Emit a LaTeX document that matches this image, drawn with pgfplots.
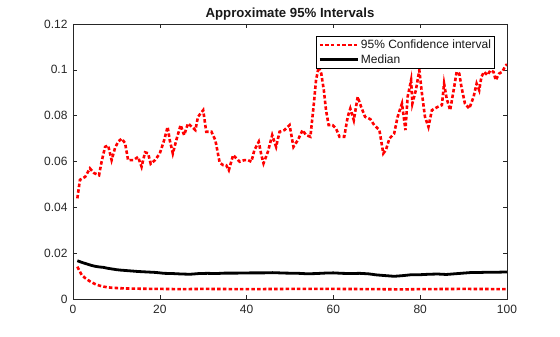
\documentclass[border=0pt]{standalone}
\usepackage{fontspec}
\setmainfont{Liberation Sans}
\usepackage{pgfplots}
\pgfplotsset{compat=1.18}
\definecolor{axgray}{gray}{0.15}
\begin{document}
\begin{tikzpicture}[x=1pt,y=1pt]
\useasboundingbox (-73,-38) rectangle (487,299);
\begin{axis}[
  at={(0,0)}, anchor=south west,
  scale only axis, width=434pt, height=275pt,
  xmin=0, xmax=100, ymin=0, ymax=0.12,
  xtick={0,20,...,100},
  ytick={0,0.02,0.04,0.06,0.08,0.1,0.12},
  scaled y ticks=false,
  yticklabel style={/pgf/number format/fixed, /pgf/number format/precision=2, xshift=-2pt},
  /pgf/number format/assume math mode=true,
  tick align=inside, major tick length=4pt,
  tick style={axgray, line width=0.6pt},
  axis line style={axgray, line width=0.6pt},
  ticklabel style={font=\fontsize{12}{14}\selectfont, text=axgray},
  xticklabel style={yshift=-3pt},
  title={\textbf{Approximate 95\% Intervals}},
  title style={font=\fontsize{13.2}{15}\selectfont, text=black!90, yshift=-6pt},
  legend style={at={(0.972,0.956)}, anchor=north east, draw=black, line width=0.6pt,
    font=\fontsize{12}{14}\selectfont, text=black!90, inner sep=1.5pt, row sep=0.5pt,
    /tikz/every even column/.append style={column sep=2pt}},
  legend cell align=left,
  legend image code/.code={\draw[#1] (0pt,0pt) -- (38pt,0pt);},
]
\addplot[red, line width=2.6pt, dash pattern=on 3.5pt off 2.2pt] coordinates {
(1,0.0439)(1.6,0.052)(2.8,0.0533)(3.9,0.057)(4.8,0.055)(6,0.054)(6.6,0.060)(7.4,0.0664)(8.1,0.067)(8.9,0.0606)(9.7,0.066)(10.4,0.0686)(11.2,0.070)(12,0.068)(12.7,0.0606)(13.9,0.0606)(15,0.062)(15.8,0.0577)(16.6,0.064)(17.3,0.0636)(17.9,0.059)(18.9,0.0606)(20,0.0635)(21,0.0693)(21.8,0.0751)(22.3,0.0693)(23,0.0635)(23.8,0.0693)(24.8,0.0759)(25.6,0.0715)(26.5,0.0766)(27.4,0.0751)(28.2,0.0737)(28.8,0.0795)(30,0.0824)(30.7,0.073)(31.9,0.073)(32.8,0.0693)(33.8,0.0595)(34.6,0.0584)(35.3,0.0584)(35.9,0.0562)(36.9,0.0628)(38.4,0.0599)(39.5,0.0606)(40.3,0.0606)(41.1,0.0599)(41.8,0.065)(42.8,0.0686)(43.4,0.0628)(43.9,0.0592)(44.9,0.0642)(45.9,0.0715)(46.8,0.0664)(47.6,0.073)(48.7,0.0737)(49.9,0.0759)(50.8,0.0664)(51.8,0.0693)(52.9,0.0737)(53.7,0.0715)(54.7,0.0708)(55.5,0.0853)(56,0.0955)(56.6,0.1013)(57.2,0.0984)(57.8,0.0911)(58.3,0.0824)(58.9,0.0759)(59.8,0.0759)(60.6,0.0744)(61.4,0.0708)(62.5,0.0708)(63.3,0.0795)(63.9,0.0831)(64.7,0.078)(65.6,0.0882)(66.4,0.0838)(67.3,0.0795)(68.5,0.0785)(69.4,0.0759)(70.6,0.0737)(71.5,0.0635)(72.1,0.065)(72.9,0.070)(74,0.0722)(74.8,0.0795)(75.8,0.0853)(76.6,0.0737)(77.1,0.0882)(77.9,0.0955)(78.2,0.0853)(79,0.0911)(79.8,0.0998)(80.4,0.0897)(81.1,0.0795)(81.9,0.0751)(82.7,0.0824)(84,0.0838)(85,0.0846)(85.5,0.094)(86.1,0.0875)(86.9,0.0824)(87.7,0.0911)(88.4,0.0991)(89,0.0984)(89.5,0.0926)(90.3,0.0853)(91.3,0.0831)(92.3,0.0882)(93,0.094)(93.6,0.0911)(94.1,0.0969)(94.7,0.0991)(95.5,0.0977)(96.2,0.0998)(96.9,0.0991)(97.4,0.0955)(98.2,0.0984)(98.9,0.0991)(99.5,0.1013)(100,0.1025)
};
\addlegendentry{95\% Confidence interval}
\addplot[black, line width=2.8pt] coordinates {
(1,0.0167)(2,0.0160)(3,0.0154)(4,0.0148)(5,0.0143)(6,0.0140)(7,0.0138)(8,0.0134)(9,0.0131)(10,0.0128)(11,0.0126)(13,0.0123)(15,0.0120)(17,0.0118)(19,0.0116)(21,0.0112)(23,0.0111)(25,0.0109)(27,0.0108)(29,0.0111)(31,0.0112)(33,0.0111)(35,0.0113)(38,0.0113)(41,0.0114)(44,0.0114)(46,0.0115)(49,0.0113)(52,0.0112)(54,0.0110)(56,0.0111)(58,0.0113)(60,0.0114)(62,0.0112)(64,0.0111)(66,0.0112)(68,0.0110)(70,0.0105)(72,0.0102)(74,0.0099)(76,0.0102)(78,0.0106)(80,0.0106)(82,0.0108)(84,0.0109)(86,0.0107)(88,0.0110)(90,0.0113)(92,0.0116)(94,0.0116)(96,0.0117)(98,0.0117)(100,0.0118)
};
\addlegendentry{Median}
\addplot[red, line width=2.6pt, dash pattern=on 3.5pt off 2.2pt, forget plot] coordinates {
(1,0.0141)(2,0.0105)(3,0.0088)(4,0.0076)(5,0.0066)(6,0.0059)(7,0.0054)(8,0.0051)(9,0.0049)(10,0.0048)(12,0.0046)(15,0.0045)(20,0.0044)(25,0.0043)(30,0.0044)(40,0.0043)(50,0.0044)(60,0.0044)(70,0.0043)(76,0.0042)(80,0.0043)(90,0.0044)(100,0.0043)
};
\end{axis}
\end{tikzpicture}
\end{document}
